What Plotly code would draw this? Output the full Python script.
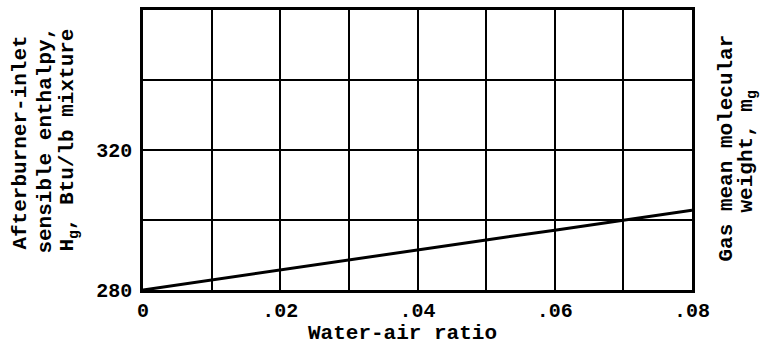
import plotly.graph_objects as go

water_air_ratio = [0.0, 0.01, 0.02, 0.03, 0.04, 0.05, 0.06, 0.07, 0.08]
enthalpy = [280.0, 282.9, 285.7, 288.6, 291.5, 294.3, 297.1, 300.0, 302.8]

x_tickvals = [0.0, 0.01, 0.02, 0.03, 0.04, 0.05, 0.06, 0.07, 0.08]
x_ticktext = ["0", "", ".02", "", ".04", "", ".06", "", ".08"]
y_tickvals = [280, 300, 320, 340, 360]
y_ticktext = ["280", "", "320", "", ""]

left_title_lines = ["Afterburner-inlet", "sensible enthalpy,", "H<sub>g</sub>, Btu/lb mixture"]
right_title_lines = ["Gas mean molecular", "weight, m<sub>g</sub>"]
x_title = "Water-air ratio"

W, H = 761, 345
L, R, T, B = 143, 69, 7, 55
pw = W - L - R

TITLE_FONT = dict(family="Liberation Mono", size=21, color="black", weight="bold")
TICK_FONT = dict(family="Liberation Mono", size=20, color="black", weight="bold")

fig = go.Figure()
fig.add_trace(go.Scatter(x=water_air_ratio, y=enthalpy, mode="lines",
                         line=dict(color="black", width=3), showlegend=False,
                         hoverinfo="skip"))

fig.update_layout(
    width=W, height=H,
    margin=dict(l=L, r=R, t=T, b=B),
    plot_bgcolor="white", paper_bgcolor="white",
    xaxis=dict(range=[0, 0.08], tickvals=x_tickvals, ticktext=x_ticktext,
               showgrid=True, gridcolor="black", gridwidth=1.8,
               showline=True, linecolor="black", linewidth=2.5, mirror=True,
               ticks="", tickfont=TICK_FONT, ticklabelstandoff=0,
               zeroline=False),
    yaxis=dict(range=[280, 360], tickvals=y_tickvals, ticktext=y_ticktext,
               showgrid=True, gridcolor="black", gridwidth=1.8,
               showline=True, linecolor="black", linewidth=2.5, mirror=True,
               ticks="", tickfont=TICK_FONT, ticklabelstandoff=4,
               zeroline=False),
)

def px_x(p):
    return (p - L) / pw

def px_y(p):
    return (H - B - p) / (H - T - B)

for txt, xp, yp in zip(left_title_lines, [21, 46, 69], [141, 139, 139]):
    fig.add_annotation(text=txt, xref="paper", yref="paper",
                       x=px_x(xp), y=px_y(yp), xanchor="center", yanchor="middle",
                       textangle=-90, showarrow=False, font=TITLE_FONT)
for txt, xp, yp in zip(right_title_lines, [727, 747], [147, 150]):
    fig.add_annotation(text=txt, xref="paper", yref="paper",
                       x=px_x(xp), y=px_y(yp), xanchor="center", yanchor="middle",
                       textangle=-90, showarrow=False, font=TITLE_FONT)
fig.add_annotation(text=x_title, xref="paper", yref="paper",
                   x=px_x(402), y=px_y(334), xanchor="center", yanchor="middle",
                   showarrow=False, font=TITLE_FONT)

fig.write_html("out.html")
